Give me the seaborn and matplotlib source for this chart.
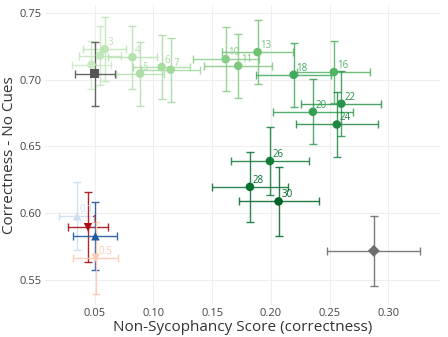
import numpy as np
import pandas as pd
import matplotlib
matplotlib.use('Agg')
import matplotlib.pyplot as plt
import seaborn as sns

# green series (labelled by step)
green_labels = [1, 2, 3, 4, 5, 6, 7, 10, 11, 13, 16, 18, 20, 22, 24, 26, 28, 30]
green_x = [0.0472, 0.0545, 0.0585, 0.0821, 0.0886, 0.1070, 0.1147, 0.1615, 0.1722, 0.1887,
           0.2537, 0.2194, 0.2358, 0.2600, 0.2562, 0.1992, 0.1822, 0.2066]
green_y = [0.7112, 0.7181, 0.7229, 0.7169, 0.7045, 0.7095, 0.7075, 0.7154, 0.7104, 0.7207,
           0.7057, 0.7037, 0.6759, 0.6820, 0.6664, 0.6390, 0.6196, 0.6087]
green_xerr = [0.0168, 0.0177, 0.0183, 0.0210, 0.0205, 0.0240, 0.0250, 0.0280, 0.0290, 0.0300,
              0.0310, 0.0320, 0.0340, 0.0340, 0.0350, 0.0330, 0.0320, 0.0340]
green_yerr = [0.0180, 0.0220, 0.0240, 0.0237, 0.0240, 0.0240, 0.0240, 0.0238, 0.0240, 0.0240,
              0.0235, 0.0240, 0.0244, 0.0244, 0.0246, 0.0255, 0.0260, 0.0260]
green_text = ['', '', '3', '4', '5', '6', '7', '10', '11', '13', '16', '18', '20', '22', '24', '26', '28', '30']

# other reference points
other_x = [0.0500, 0.2877, 0.0350, 0.0443, 0.0506, 0.0508]
other_y = [0.7045, 0.5716, 0.5975, 0.5893, 0.5826, 0.5664]
other_xerr = [0.0170, 0.0395, 0.0156, 0.0173, 0.0187, 0.0194]
other_yerr = [0.0240, 0.0263, 0.0254, 0.0261, 0.0256, 0.0269]
other_text = ['', '', '0.1', '1', '', '0.5']
other_marker = ['s', 'D', '^', 'v', '^', 'v']
other_color = ['#555555', '#6e6e6e', '#cddff0', '#a50f15', '#1f5aa0', '#fdcab4']

sns.set_theme(style='whitegrid')
plt.rcParams['font.family'] = ['Open Sans', 'DejaVu Sans']

fig, ax = plt.subplots(figsize=(4.48, 3.37), dpi=100)
fig.subplots_adjust(left=0.1, right=0.982, bottom=0.095, top=0.985)

cmap = plt.get_cmap('Greens')
green_colors = [cmap(0.22 + 0.68 * (v / 30)) for v in green_labels]

for i in range(len(green_x)):
    ax.errorbar(green_x[i], green_y[i], xerr=green_xerr[i], yerr=green_yerr[i],
                fmt='none', ecolor=green_colors[i], elinewidth=1.0, capsize=3, capthick=1.0,
                alpha=0.85, zorder=2)

df_green = pd.DataFrame({'x': green_x, 'y': green_y, 'step': [str(v) for v in green_labels]})
sns.scatterplot(data=df_green, x='x', y='y', hue='step', palette=green_colors,
                s=38, edgecolor='none', legend=False, ax=ax, zorder=3)
for i, t in enumerate(green_text):
    if t:
        ax.annotate(t, (green_x[i], green_y[i]), xytext=(2, 3), textcoords='offset points',
                    fontsize=7, color=green_colors[i])

for i in range(len(other_x)):
    ax.errorbar(other_x[i], other_y[i], xerr=other_xerr[i], yerr=other_yerr[i],
                fmt='none', ecolor=other_color[i], elinewidth=1.0, capsize=3, capthick=1.0,
                alpha=0.9, zorder=2)
    sns.scatterplot(x=[other_x[i]], y=[other_y[i]], marker=other_marker[i], color=other_color[i],
                    s=38, edgecolor='none', ax=ax, zorder=3)
    if other_text[i]:
        ax.annotate(other_text[i], (other_x[i], other_y[i]), xytext=(2, 3), textcoords='offset points',
                    fontsize=7, color=other_color[i])

ax.set_xlim(0.0075, 0.344)
ax.set_ylim(0.531, 0.756)
ax.set_xticks([0.05, 0.10, 0.15, 0.20, 0.25, 0.30])
ax.set_xticklabels(['0.05', '0.10', '0.15', '0.20', '0.25', '0.30'])
ax.set_yticks([0.55, 0.60, 0.65, 0.70, 0.75])
ax.set_yticklabels(['0.55', '0.60', '0.65', '0.70', '0.75'])
ax.tick_params(axis='both', labelsize=8, colors='#444444', length=0, pad=2)
ax.grid(True, color='#eeeeee', linewidth=0.8)
for s in ax.spines.values():
    s.set_visible(False)
ax.set_xlabel('Non-Sycophancy Score (correctness)', fontsize=11, color='#333333', labelpad=1)
ax.set_ylabel('Correctness - No Cues', fontsize=11, color='#333333', labelpad=2)

plt.savefig('out.png', dpi=100)
